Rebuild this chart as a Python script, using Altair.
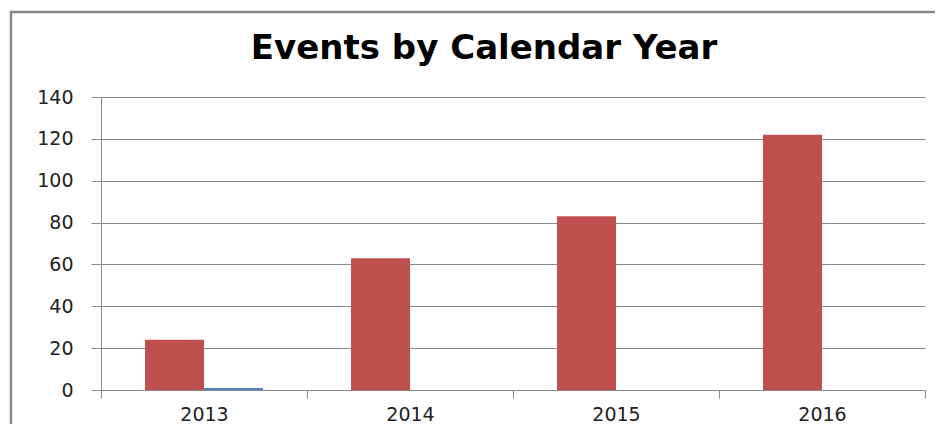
import altair as alt
import pandas as pd

years = ["2013", "2014", "2015", "2016"]
series_names = ["Series A", "Series B"]
series_a = [24, 63, 83, 122]
series_b = [1, 0, 0, 0]
colors = ["#C0504D", "#4F81BD"]
y_ticks = [0, 20, 40, 60, 80, 100, 120, 140]

rows = []
for i, yr in enumerate(years):
    rows.append({"year": yr, "series": series_names[0], "value": series_a[i]})
    rows.append({"year": yr, "series": series_names[1], "value": series_b[i]})
df = pd.DataFrame(rows)

axis_gray = "#8a8a8a"
label_font = "DejaVu Sans"

border = alt.Chart(alt.Data(values=[{"k": 1}])).mark_rect(
    fill="transparent", stroke=axis_gray, strokeWidth=2.5
).encode(
    x=alt.value(-90), y=alt.value(-85), x2=alt.value(860), y2=alt.value(420)
)

bars = alt.Chart(df).mark_bar().encode(
    x=alt.X(
        "year:N", sort=years, title=None,
        scale=alt.Scale(paddingInner=0, paddingOuter=0),
        axis=alt.Axis(labelAngle=0, tickBand="extent", ticks=True, tickSize=8,
                      labelPadding=22, labelBaseline="alphabetic", grid=False,
                      labelFontSize=19, labelFont=label_font,
                      labelColor="#222222", domainColor=axis_gray, tickColor=axis_gray,
                      labelFontWeight="normal"),
    ),
    xOffset=alt.XOffset("series:N", sort=series_names,
                        scale=alt.Scale(paddingInner=0, paddingOuter=0.746)),
    y=alt.Y(
        "value:Q", title=None,
        scale=alt.Scale(domain=[0, 140], nice=False),
        axis=alt.Axis(values=y_ticks, tickSize=10, labelPadding=18, labelFontSize=19,
                      labelFont=label_font, labelColor="#222222", domainColor=axis_gray,
                      tickColor=axis_gray, gridColor=axis_gray, grid=True),
    ),
    color=alt.Color("series:N", scale=alt.Scale(domain=series_names, range=colors), legend=None),
)

chart = alt.layer(border, bars).properties(
    width=824, height=293,
    padding={"left": 93, "top": 89, "right": 10, "bottom": 34},
    autosize=alt.AutoSizeParams(type="none"),
    title=alt.TitleParams("Events by Calendar Year", fontSize=34, font="DejaVu Sans",
                          fontWeight="bold", color="black", anchor="middle", dx=-29,
                          baseline="alphabetic", offset=-82),
    background="white",
).configure_view(stroke=None)

chart.save("out.html", embed_options={"renderer": "svg", "actions": False})
